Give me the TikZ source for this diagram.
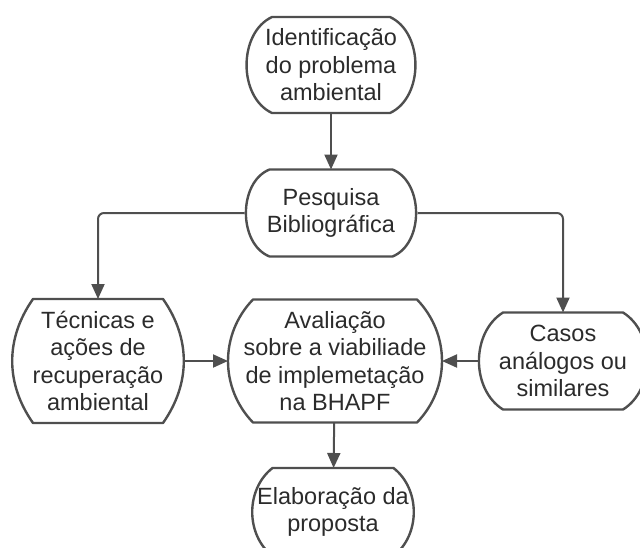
\documentclass[tikz,border=0pt]{standalone}
\usepackage{fontspec}
\setmainfont{Liberation Sans}
\usepackage{tikz}
\usetikzlibrary{arrows.meta}

\definecolor{contorno}{HTML}{4F4F4F}
\definecolor{texto}{HTML}{2B2B2B}

\begin{document}
\begin{tikzpicture}[x=1pt, y=-1pt,
  etapa/.style={rectangle, outer sep=0pt, inner sep=0pt, align=center, text=texto,
    font=\fontsize{23.5}{27.5}\selectfont},
  borda/.style={draw=contorno, line width=2.4pt, line join=round},
  seta/.style={draw=contorno, line width=2pt, rounded corners=6pt, -{Triangle[length=15pt, width=13pt]}}]
\useasboundingbox (0,0) rectangle (640,547);
\node[etapa, minimum width=172, minimum height=96] (ident) at (331,65) {Identificação\\do problema\\ambiental};
\node[etapa, minimum width=173, minimum height=87] (pesq) at (331,213) {Pesquisa\\Bibliográfica};
\node[etapa, minimum width=170, minimum height=124] (tecn) at (98,361) {Técnicas e\\ações de\\recuperação\\ambiental};
\node[etapa, minimum width=214, minimum height=123] (aval) at (335,361) {Avaliação\\sobre a viabiliade\\de implemetação\\na BHAPF};
\node[etapa, minimum width=170, minimum height=97] (casos) at (563,361) {Casos\\análogos ou\\similares};
\node[etapa, minimum width=163, minimum height=88] (elab) at (333,512) {Elaboração da\\proposta};
\foreach \n/\b/\a in {ident/27/65, pesq/25/68, tecn/20/35, aval/25/44, casos/25/58, elab/21/52}
  \draw[borda] ([xshift=\b]\n.north west) -- ([xshift=-\b]\n.north east)
    to[bend left=\a] ([xshift=-\b]\n.south east) -- ([xshift=\b]\n.south west)
    to[bend left=\a] ([xshift=\b]\n.north west) -- cycle;
\draw[seta] (ident) -- (pesq);
\draw[seta] (pesq.west) -| (tecn.north);
\draw[seta] (pesq.east) -| (casos.north);
\draw[seta] (tecn) -- (aval);
\draw[seta] (casos) -- (aval);
\draw[seta] (aval) -- (elab);
\end{tikzpicture}
\end{document}
